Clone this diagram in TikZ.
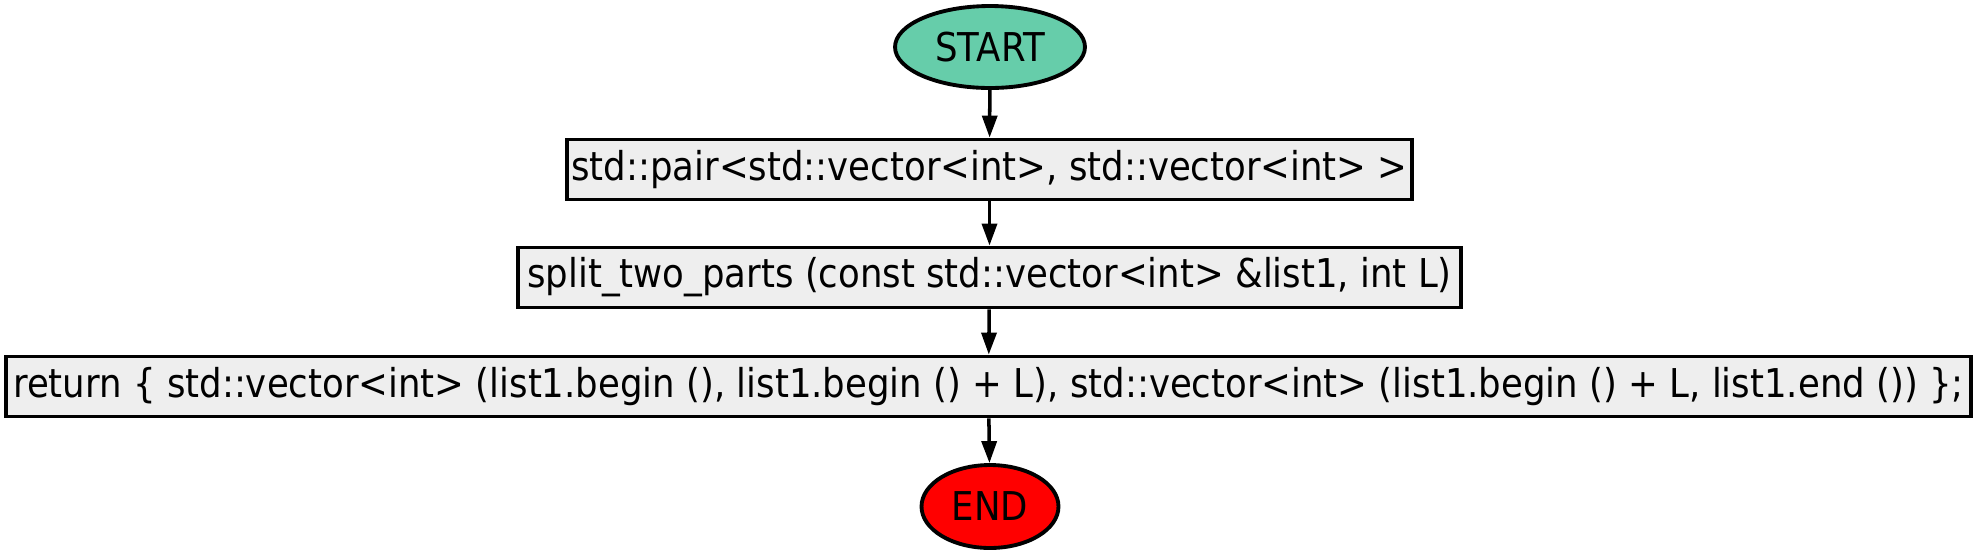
\documentclass[tikz,border=0pt]{standalone}
\usepackage{fontspec}
\setmainfont{DejaVu Sans}[FakeStretch=0.895]
\usepackage{tikz}
\usetikzlibrary{arrows.meta,positioning,shapes.geometric}
\definecolor{startfill}{RGB}{102,205,170}
\definecolor{endfill}{RGB}{255,0,0}
\definecolor{boxfill}{RGB}{238,238,238}

\begin{document}
\begin{tikzpicture}[
  x=0.02cm, y=-0.02cm,
  every node/.style={font=\fontsize{22.6pt}{27pt}\selectfont, line width=2.2pt},
  term/.style={ellipse, draw, inner sep=0pt},
  stmt/.style={rectangle, draw, fill=boxfill, inner sep=0pt, minimum height=1.2cm},
  flow/.style={-{Triangle[length=0.44cm, width=0.3cm]}, line width=2pt},
]
\useasboundingbox (0,0) rectangle (1979,556);
% terminals
\node[term, fill=startfill, minimum width=3.8cm, minimum height=1.64cm] (start) at (990,47) {START};
\node[term, fill=endfill, minimum width=2.74cm, minimum height=1.66cm] (end) at (990,506.5) {END};
% statements
\node[stmt, minimum width=16.9cm] (ret) at (989.5,169.5)
  {std::pair<std::vector<int>, std::vector<int> >};
\node[stmt, minimum width=18.86cm] (fn) at (989.5,277.5)
  {split\_two\_parts (const std::vector<int> \&list1, int L)};
\node[stmt, minimum width=39.3cm] (body) at (988.5,386.5)
  {return \{ std::vector<int> (list1.begin (), list1.begin () + L), std::vector<int> (list1.begin () + L, list1.end ()) \};};
% connectors
\draw[flow] (start) -- (ret);
\draw[flow] (ret) -- (fn);
\draw[flow] (fn) -- (body);
\draw[flow] (body) -- (end);
\end{tikzpicture}
\end{document}
